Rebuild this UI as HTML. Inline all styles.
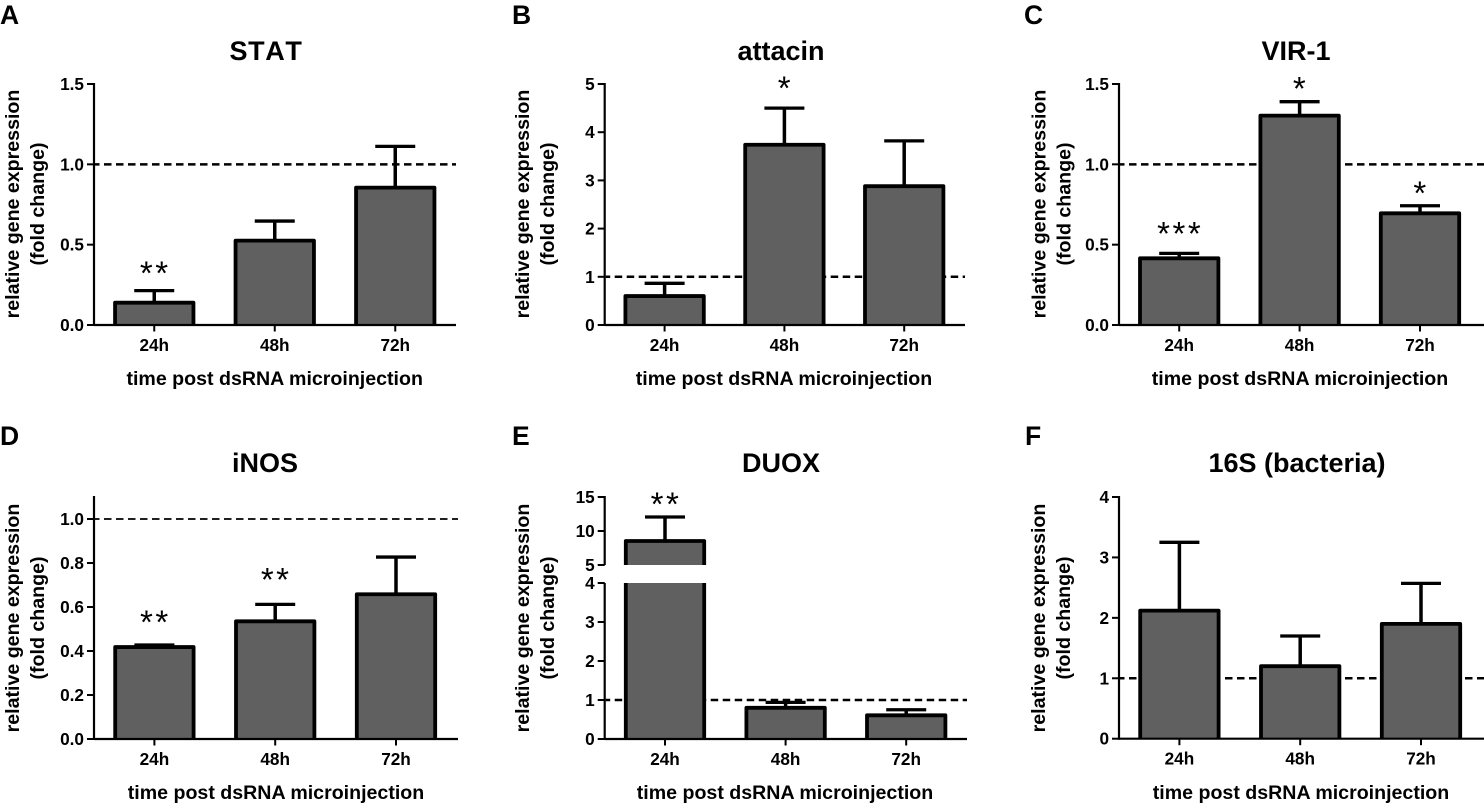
<!DOCTYPE html>
<html lang="en">
<head>
<meta charset="utf-8">
<title>Relative gene expression after dsRNA microinjection</title>
<style>
html,body{margin:0;padding:0;background:#fff;width:1484px;height:804px;overflow:hidden}
svg{display:block}
text{font-family:"Liberation Sans",Arial,sans-serif;fill:#000;font-weight:bold}
.letter{font-size:26.5px}
.title{font-size:27px;text-anchor:middle}
.xtitle{font-size:19.6px;text-anchor:middle}
.ytitle{font-size:19.6px;text-anchor:middle}
.tick{font-size:17.2px}
.star{font-size:33px;font-weight:normal;text-anchor:middle;letter-spacing:2.5px}
</style>
</head>
<body>
<svg id="figure" xmlns="http://www.w3.org/2000/svg" width="1484" height="804" viewBox="0 0 1484 804">
  <rect width="1484" height="804" fill="#fff"/>

  <g id="panel-a">
    <text class="letter" x="0" y="24">A</text>
    <text class="title" x="266" y="60" style="font-kerning:none;letter-spacing:.6px">STAT</text>
    <text class="ytitle" transform="translate(19,204) rotate(-90)">relative gene expression</text>
    <text class="ytitle" transform="translate(44,204) rotate(-90)">(fold change)</text>
    <text class="xtitle" x="274.7" y="385">time post dsRNA microinjection</text>
  </g>
  <g id="panel-b">
    <text class="letter" x="512" y="24">B</text>
    <text class="title" x="781" y="60">attacin</text>
    <text class="ytitle" transform="translate(529,204) rotate(-90)">relative gene expression</text>
    <text class="ytitle" transform="translate(554,204) rotate(-90)">(fold change)</text>
    <text class="xtitle" x="784" y="385">time post dsRNA microinjection</text>
  </g>
  <g id="panel-c">
    <text class="letter" x="1024" y="24">C</text>
    <text class="title" x="1296" y="60">VIR-1</text>
    <text class="ytitle" transform="translate(1045.5,204) rotate(-90)">relative gene expression</text>
    <text class="ytitle" transform="translate(1070.5,204) rotate(-90)">(fold change)</text>
    <text class="xtitle" x="1300" y="385">time post dsRNA microinjection</text>
  </g>
  <g id="panel-d">
    <text class="letter" x="0" y="445">D</text>
    <text class="title" x="265" y="472">iNOS</text>
    <text class="ytitle" transform="translate(19,618) rotate(-90)">relative gene expression</text>
    <text class="ytitle" transform="translate(44,618) rotate(-90)">(fold change)</text>
    <text class="xtitle" x="276" y="799">time post dsRNA microinjection</text>
  </g>
  <g id="panel-e">
    <text class="letter" x="512" y="445">E</text>
    <text class="title" x="781" y="472">DUOX</text>
    <text class="ytitle" transform="translate(529,618) rotate(-90)">relative gene expression</text>
    <text class="ytitle" transform="translate(554,618) rotate(-90)">(fold change)</text>
    <text class="xtitle" x="785" y="799">time post dsRNA microinjection</text>
  </g>
  <g id="panel-f">
    <text class="letter" x="1025" y="445">F</text>
    <text class="title" x="1297" y="472">16S (bacteria)</text>
    <text class="ytitle" transform="translate(1045,618) rotate(-90)">relative gene expression</text>
    <text class="ytitle" transform="translate(1070,618) rotate(-90)">(fold change)</text>
    <text class="xtitle" x="1301" y="799">time post dsRNA microinjection</text>
  </g>
</svg>
<script>
// ---- data ----
const categories = ['24h', '48h', '72h'];
const referenceLevel = 1;

const statValues = [0.139, 0.525, 0.855];
const statUpper = [0.214, 0.647, 1.112];
const statStars = ['**', '', ''];
const statTicks = ['0.0', '0.5', '1.0', '1.5'];

const attacinValues = [0.60, 3.74, 2.88];
const attacinUpper = [0.865, 4.50, 3.82];
const attacinStars = ['', '*', ''];
const attacinTicks = ['0', '1', '2', '3', '4', '5'];

const virValues = [0.415, 1.303, 0.695];
const virUpper = [0.446, 1.39, 0.742];
const virStars = ['***', '*', '*'];
const virTicks = ['0.0', '0.5', '1.0', '1.5'];

const inosValues = [0.418, 0.535, 0.658];
const inosUpper = [0.427, 0.612, 0.827];
const inosStars = ['**', '**', ''];
const inosTicks = ['0.0', '0.2', '0.4', '0.6', '0.8', '1.0'];

const duoxValues = [8.53, 0.80, 0.607];
const duoxUpper = [12.06, 0.94, 0.75];
const duoxStars = ['**', '', ''];
const duoxTicks = ['0', '1', '2', '3', '4', '5', '10', '15'];

const bacteriaValues = [2.12, 1.20, 1.90];
const bacteriaUpper = [3.25, 1.70, 2.57];
const bacteriaStars = ['', '', ''];
const bacteriaTicks = ['0', '1', '2', '3', '4'];

// ---- helpers ----
const SVG_NS = 'http://www.w3.org/2000/svg';
function shape(parent, tag, props) {
  const node = document.createElementNS(SVG_NS, tag);
  for (const key in props) node.setAttribute(key, props[key]);
  parent.appendChild(node);
  return node;
}

function linearScale(d0, d1, r0, r1) {
  return function (v) { return r0 + (v - d0) * (r1 - r0) / (d1 - d0); };
}

function drawPanel(opt) {
  const root = document.getElementById(opt.id);
  const y = opt.yScale;
  const y0 = y(0);
  const yTop = opt.yTop;
  const xAt = function (i) { return opt.axisX + opt.band * (i + 0.5); };

  // reference line behind the bars
  const dash = shape(root, 'line', {
    x1: opt.axisX + 1, x2: opt.axisEnd, y1: y(referenceLevel), y2: y(referenceLevel),
    stroke: '#000', 'stroke-width': opt.dashWidth, 'stroke-dasharray': '7.5 4.5', 'stroke-dashoffset': 3
  });
  
  

  // series
  opt.values.forEach(function (value, i) {
    const cx = xAt(i);
    const halfBar = 39.2;
    const stem = shape(root, 'line', {
      x1: cx, x2: cx, y1: y(value), y2: y(opt.upper[i]), stroke: '#000', 'stroke-width': 3.5
    });
    
    

    const cap = shape(root, 'line', {
      x1: cx - 20, x2: cx + 20, y1: y(opt.upper[i]), y2: y(opt.upper[i]), stroke: '#000', 'stroke-width': 3.3
    });
    
    

    const bar = shape(root, 'path', {
      d: 'M' + (cx - halfBar) + ' ' + y0 + 'V' + y(value) + 'H' + (cx + halfBar) + 'V' + y0,
      fill: '#606060', stroke: '#000', 'stroke-width': 3.8, 'stroke-linejoin': 'round'
    });
    
    

    if (opt.stars[i]) {
      const star = shape(root, 'text', {
        class: 'star', x: cx + 1, y: y(opt.upper[i]) - opt.starGap[i] + 16.5
      });
      star.textContent = opt.stars[i];
      
      
    }

    const xTick = shape(root, 'line', {
      x1: cx, x2: cx, y1: y0, y2: y0 + 6.5, stroke: '#000', 'stroke-width': 2
    });
    
    

    const xLabel = shape(root, 'text', {
      class: 'tick', x: cx, y: y0 + 26, 'text-anchor': 'middle'
    });
    xLabel.textContent = categories[i];
    
    
  });

  // axes
  const yAxis = shape(root, 'line', {
    x1: opt.axisX, x2: opt.axisX, y1: yTop - 1, y2: y0 + 1, stroke: '#000', 'stroke-width': 2.2
  });
  
  

  const xAxis = shape(root, 'line', {
    x1: opt.axisX, x2: opt.axisEnd, y1: y0, y2: y0, stroke: '#000', 'stroke-width': 2.2
  });
  
  

  // axis break: white band across plot between the two scale segments
  if (opt.breakRange) {
    const bTop = y(opt.breakRange[1]);
    const bBottom = y(opt.breakRange[0]);
    const gap = shape(root, 'rect', {
      x: opt.axisX - 3, y: bTop, width: opt.band + 20, height: bBottom - bTop, fill: '#fff'
    });
    
    
  }

  opt.ticks.forEach(function (label) {
    const value = parseFloat(label);
    const tick = shape(root, 'line', {
      x1: opt.axisX - 7, x2: opt.axisX, y1: y(value), y2: y(value), stroke: '#000', 'stroke-width': 2
    });
    
    

    const text = shape(root, 'text', {
      class: 'tick', x: opt.axisX - 10, y: y(value) + 6, 'text-anchor': 'end'
    });
    text.textContent = label;
    
    
  });
}

// ---- axis scales ----
const statY = linearScale(0, 1.5, 325, 84);
const attacinY = linearScale(0, 5, 325, 84);
const virY = linearScale(0, 1.5, 325, 84);
const inosY = linearScale(0, 1, 739, 519);
const bacteriaY = linearScale(0, 4, 738.7, 497);
const duoxLowerY = linearScale(0, 4, 739, 583);
const duoxUpperY = linearScale(5, 15, 565, 497);
const duoxY = function (v) { return v <= 4 ? duoxLowerY(v) : duoxUpperY(Math.max(v, 5)); };

// ---- panels ----
drawPanel({ id: 'panel-a', values: statValues, upper: statUpper, stars: statStars, ticks: statTicks,
  yScale: statY, yTop: 84, axisX: 94, axisEnd: 456, band: 120.5, dashWidth: 2.5, starGap: [22.7, 0, 0] });
drawPanel({ id: 'panel-b', values: attacinValues, upper: attacinUpper, stars: attacinStars, ticks: attacinTicks,
  yScale: attacinY, yTop: 84, axisX: 604.7, axisEnd: 965, band: 119.8, dashWidth: 2.5, starGap: [0, 25, 0] });
drawPanel({ id: 'panel-c', values: virValues, upper: virUpper, stars: virStars, ticks: virTicks,
  yScale: virY, yTop: 84, axisX: 1119, axisEnd: 1484, band: 120.4, dashWidth: 2.5, starGap: [24.6, 18, 18] });
drawPanel({ id: 'panel-d', values: inosValues, upper: inosUpper, stars: inosStars, ticks: inosTicks,
  yScale: inosY, yTop: 497, axisX: 94, axisEnd: 458, band: 120.8, dashWidth: 1.8, starGap: [28, 30, 0] });
drawPanel({ id: 'panel-e', values: duoxValues, upper: duoxUpper, stars: duoxStars, ticks: duoxTicks,
  yScale: duoxY, yTop: 497, axisX: 604.7, axisEnd: 967, band: 120.6, dashWidth: 2.5, starGap: [18, 0, 0], breakRange: [4, 5] });
drawPanel({ id: 'panel-f', values: bacteriaValues, upper: bacteriaUpper, stars: bacteriaStars, ticks: bacteriaTicks,
  yScale: bacteriaY, yTop: 497, axisX: 1119, axisEnd: 1484, band: 120.8, dashWidth: 2.5, starGap: [0, 0, 0] });
</script>
</body>
</html>
